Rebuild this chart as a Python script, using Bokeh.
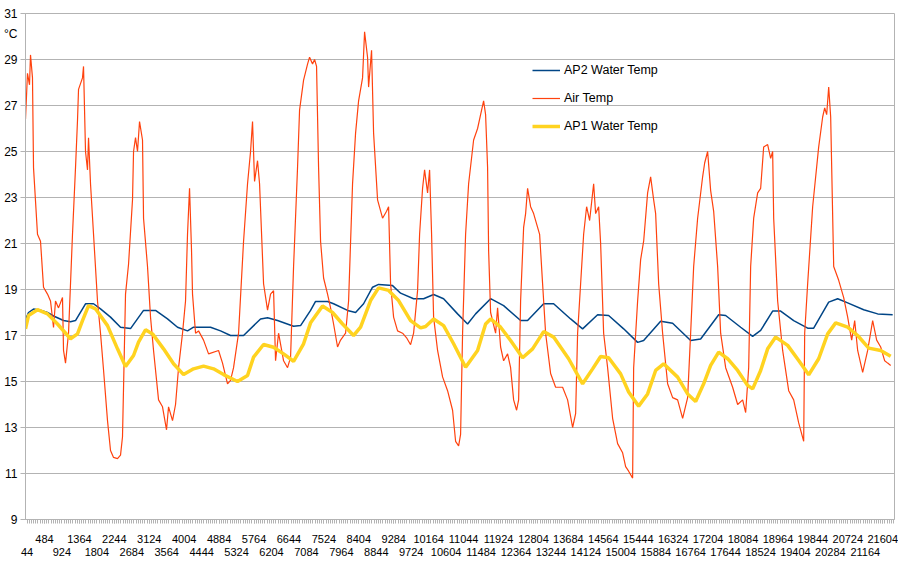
from bokeh.plotting import figure
from bokeh.models import Range1d, FixedTicker, LinearAxis, Legend, LegendItem
from bokeh.embed import file_html
from bokeh.resources import INLINE

# ---------------- data ----------------
tick_labels = ["44", "484", "924", "1364", "1804", "2244", "2684", "3124", "3564", "4004",
               "4444", "4884", "5324", "5764", "6204", "6644", "7084", "7524", "7964", "8404",
               "8844", "9284", "9724", "10164", "10604", "11044", "11484", "11924", "12364", "12804",
               "13244", "13684", "14124", "14564", "15004", "15444", "15884", "16324", "16764", "17204",
               "17644", "18084", "18524", "18964", "19404", "19844", "20284", "20724", "21164", "21604"]
y_ticks = [9, 11, 13, 15, 17, 19, 21, 23, 25, 27, 29, 31]
unit_text = "°C"
unit_pos = 30.1

ap2_x = [6, 82, 208, 384, 560, 712, 964, 1140, 1266, 1518,
         1720, 1896, 2148, 2400, 2652, 2980, 3282, 3584, 3836, 4088,
         4240, 4668, 4920, 5172, 5500, 5928, 6104, 6356, 6760, 6936,
         7188, 7314, 7616, 7768, 8120, 8322, 8524, 8750, 8902, 9254,
         9456, 9784, 10036, 10288, 10540, 10892, 11144, 11346, 11724, 12052,
         12480, 12656, 13060, 13312, 13740, 14042, 14420, 14698, 15076, 15428,
         15580, 16008, 16310, 16764, 17016, 17470, 17646, 18024, 18326, 18528,
         18830, 19032, 19360, 19712, 19864, 20242, 20468, 20720, 21124, 21476,
         21854]
ap2_y = [17.7, 18.0, 18.15, 18.1, 18.0, 17.85, 17.65, 17.6, 17.65, 18.38,
         18.38, 18.16, 17.8, 17.36, 17.3, 18.09, 18.09, 17.72, 17.36, 17.2,
         17.36, 17.36, 17.2, 17.0, 17.0, 17.72, 17.77, 17.65, 17.4, 17.43,
         18.09, 18.48, 18.48, 18.38, 18.09, 18.0, 18.38, 19.1, 19.22, 19.17,
         18.84, 18.6, 18.6, 18.78, 18.6, 17.94, 17.5, 17.94, 18.6, 18.3,
         17.65, 17.65, 18.38, 18.38, 17.72, 17.29, 17.9, 17.87, 17.29, 16.7,
         16.78, 17.62, 17.53, 16.78, 16.85, 17.9, 17.87, 17.36, 16.96, 17.22,
         18.06, 18.06, 17.65, 17.32, 17.32, 18.45, 18.6, 18.42, 18.12, 17.94,
         17.9]

air_x = [6, 56, 107, 132, 182, 208, 308, 384, 460, 560,
         636, 712, 762, 838, 938, 964, 1014, 1090, 1190, 1266,
         1316, 1342, 1442, 1468, 1518, 1568, 1594, 1644, 1720, 1820,
         1896, 1972, 2072, 2148, 2224, 2324, 2400, 2450, 2526, 2602,
         2702, 2728, 2778, 2828, 2879, 2954, 2980, 3080, 3156, 3232,
         3358, 3458, 3559, 3610, 3710, 3786, 3862, 3962, 4038, 4088,
         4139, 4189, 4214, 4290, 4366, 4492, 4618, 4870, 4970, 5096,
         5172, 5248, 5374, 5500, 5600, 5676, 5726, 5777, 5852, 5903,
         6004, 6104, 6180, 6256, 6306, 6382, 6508, 6608, 6684, 6760,
         6860, 6911, 7012, 7112, 7163, 7238, 7289, 7339, 7390, 7440,
         7516, 7616, 7692, 7768, 7868, 7944, 8070, 8146, 8246, 8322,
         8398, 8498, 8549, 8624, 8650, 8725, 8776, 8876, 9002, 9103,
         9154, 9204, 9280, 9380, 9506, 9607, 9708, 9784, 9884, 9935,
         10010, 10061, 10136, 10187, 10237, 10288, 10388, 10514, 10640, 10766,
         10842, 10918, 10968, 11018, 11094, 11170, 11296, 11396, 11472, 11548,
         11598, 11648, 11674, 11724, 11850, 11900, 11976, 12052, 12152, 12228,
         12304, 12379, 12430, 12480, 12556, 12606, 12656, 12732, 12808, 12908,
         12959, 13034, 13110, 13236, 13362, 13538, 13664, 13790, 13866, 13916,
         13992, 14068, 14143, 14219, 14320, 14370, 14446, 14496, 14572, 14672,
         14798, 14924, 15050, 15126, 15202, 15302, 15328, 15428, 15504, 15580,
         15680, 15756, 15832, 15882, 15958, 16058, 16184, 16310, 16436, 16562,
         16688, 16764, 16840, 16940, 17066, 17117, 17192, 17268, 17344, 17444,
         17520, 17646, 17822, 17948, 18074, 18150, 18226, 18276, 18352, 18452,
         18528, 18604, 18704, 18780, 18830, 18856, 18956, 19082, 19234, 19360,
         19486, 19612, 19637, 19712, 19838, 19914, 19990, 20090, 20141, 20191,
         20242, 20292, 20368, 20494, 20620, 20720, 20821, 20897, 20972, 21098,
         21224, 21350, 21451, 21552, 21653, 21728, 21804]
air_y = [26.4, 28.4, 27.9, 29.2, 28.2, 24.3, 21.4, 21.1, 19.1, 18.8,
         18.5, 17.35, 18.5, 18.2, 18.65, 16.35, 15.8, 17.1, 21.4, 24.3,
         26.35, 27.7, 28.2, 28.7, 25.0, 24.2, 25.6, 23.6, 21.4, 18.5,
         17.1, 15.5, 13.3, 12.0, 11.7, 11.65, 11.8, 12.6, 18.8, 20.1,
         22.9, 25.0, 25.6, 25.0, 26.3, 25.5, 22.1, 20.0, 17.8, 16.35,
         14.2, 13.9, 12.9, 13.9, 13.3, 14.0, 15.6, 17.1, 18.5, 21.4,
         23.4, 20.7, 18.8, 17.1, 17.2, 16.8, 16.2, 16.35, 15.8, 14.9,
         15.05, 15.6, 17.1, 21.1, 23.6, 25.0, 26.3, 23.7, 24.6, 23.6,
         19.25, 18.1, 18.8, 18.95, 15.9, 17.1, 15.9, 15.6, 16.05, 20.0,
         24.3, 26.8, 28.1, 28.8, 29.1, 28.8, 29.0, 28.7, 24.3, 21.1,
         19.5, 18.8, 18.2, 17.5, 16.5, 16.8, 17.1, 18.5, 23.6, 25.8,
         27.2, 28.2, 30.2, 29.1, 27.8, 29.4, 25.8, 22.9, 22.1, 22.4,
         22.6, 19.25, 17.8, 17.2, 17.1, 16.9, 16.6, 17.1, 18.95, 21.4,
         23.4, 24.2, 23.2, 24.2, 21.4, 17.8, 16.35, 15.2, 14.6, 13.75,
         12.4, 12.2, 12.7, 17.1, 21.4, 23.6, 25.5, 26.0, 26.6, 27.2,
         26.6, 24.3, 20.7, 18.0, 17.1, 18.2, 16.5, 15.9, 16.2, 15.6,
         14.2, 13.75, 14.2, 18.5, 21.7, 22.3, 23.4, 22.6, 22.3, 21.7,
         21.4, 19.25, 17.1, 15.35, 14.75, 14.75, 14.2, 13.0, 13.6, 17.1,
         19.25, 21.4, 22.6, 22.0, 23.6, 22.3, 22.6, 21.0, 17.1, 15.6,
         13.4, 12.3, 11.9, 11.3, 11.1, 10.8, 15.6, 18.5, 20.3, 21.1,
         23.2, 23.9, 22.9, 22.3, 19.25, 17.1, 14.9, 14.3, 14.2, 13.4,
         14.3, 17.1, 20.0, 22.1, 23.9, 24.5, 25.0, 23.3, 22.4, 20.0,
         17.1, 15.6, 14.75, 14.0, 14.2, 13.65, 15.6, 20.0, 22.1, 23.2,
         23.4, 25.2, 25.3, 24.7, 25.0, 22.1, 18.5, 16.35, 14.6, 14.2,
         13.2, 12.4, 17.1, 19.25, 22.6, 23.9, 25.2, 26.5, 26.9, 26.6,
         27.8, 26.5, 20.0, 19.4, 18.65, 17.8, 16.8, 17.65, 16.35, 15.4,
         16.35, 17.65, 16.8, 16.5, 15.9, 15.8, 15.7]

ap1_x = [6, 82, 308, 560, 812, 1140, 1316, 1442, 1594, 1770,
         2072, 2324, 2526, 2728, 2854, 3030, 3206, 3484, 3736, 3988,
         4240, 4492, 4744, 4996, 5348, 5600, 5752, 6004, 6256, 6508,
         6760, 7012, 7188, 7490, 7742, 7994, 8272, 8448, 8700, 8902,
         9154, 9406, 9708, 9960, 10086, 10288, 10540, 10792, 11094, 11396,
         11598, 11724, 11976, 12228, 12530, 12782, 13060, 13312, 13690, 14042,
         14294, 14496, 14698, 15000, 15202, 15454, 15680, 15882, 16084, 16436,
         16688, 16890, 17092, 17268, 17470, 17696, 17948, 18200, 18326, 18528,
         18704, 18906, 19208, 19486, 19738, 19990, 20216, 20418, 20720, 20972,
         21250, 21552, 21804]
ap1_y = [17.29, 17.87, 18.12, 17.94, 17.5, 16.86, 17.07, 17.65, 18.3, 18.16,
         17.43, 16.42, 15.65, 16.13, 16.71, 17.25, 17.07, 16.42, 15.77, 15.3,
         15.55, 15.67, 15.55, 15.3, 15.0, 15.26, 16.06, 16.61, 16.49, 16.2,
         15.88, 16.64, 17.55, 18.28, 18.0, 17.5, 17.0, 17.36, 18.52, 19.07,
         18.96, 18.52, 17.65, 17.33, 17.39, 17.72, 17.43, 16.64, 15.62, 16.35,
         17.5, 17.72, 17.36, 16.78, 16.03, 16.42, 17.17, 16.93, 15.99, 14.9,
         15.55, 16.09, 16.03, 15.33, 14.54, 13.93, 14.46, 15.48, 15.77, 15.19,
         14.46, 14.13, 14.9, 15.7, 16.28, 15.99, 15.48, 14.83, 14.68, 15.48,
         16.42, 16.93, 16.57, 15.91, 15.29, 15.99, 17.07, 17.55, 17.36, 17.0,
         16.45, 16.35, 16.1]

series_names = ["AP2 Water Temp", "Air Temp", "AP1 Water Temp"]
series_colors = ["#004586", "#ff420e", "#ffd320"]

# ---------------- figure ----------------
FONT = "Liberation Sans"
GRID = "#b3b3b3"

tick_values = [int(s) for s in tick_labels]
upper_ticks = tick_values[1::2]
lower_ticks = tick_values[0::2]
minor_ticks = list(range(44, 21900, 55))

p = figure(width=898, height=565, output_backend="svg", toolbar_location=None,
           x_range=Range1d(6, 21900), y_range=Range1d(9, 31),
           min_border_left=25, min_border_right=4, min_border_top=13,
           min_border_bottom=46)
p.background_fill_color = "white"
p.border_fill_color = "white"
p.outline_line_color = GRID
p.xgrid.visible = False
p.ygrid.grid_line_color = GRID
p.ygrid.grid_line_width = 1

# inner left axis: only the short tick marks (grid lines extend past the axis)
yax = p.yaxis[0]
yax.ticker = FixedTicker(ticks=y_ticks)
yax.axis_line_color = GRID
yax.major_tick_line_color = GRID
yax.major_tick_out = 5
yax.major_tick_in = 0
yax.minor_tick_line_color = None
yax.major_label_standoff = 0
yax.major_label_overrides = {t: "" for t in y_ticks}
yax.major_label_text_font_size = "0px"

# outer left axis: the numbers and the unit text
yax2 = LinearAxis(ticker=FixedTicker(ticks=y_ticks + [unit_pos], minor_ticks=[]))
yax2.major_label_overrides = {unit_pos: unit_text}
yax2.axis_line_color = None
yax2.major_tick_line_color = None
yax2.minor_tick_line_color = None
yax2.major_tick_out = 0
yax2.major_tick_in = 0
yax2.major_label_standoff = 3
yax2.major_label_text_font = FONT
yax2.major_label_text_font_size = "12px"
yax2.major_label_text_color = "black"
p.add_layout(yax2, "left")

xax = p.xaxis[0]
xax.ticker = FixedTicker(ticks=upper_ticks, minor_ticks=minor_ticks)
xax.major_label_overrides = {t: l for t, l in zip(tick_values, tick_labels)}
xax.axis_line_color = GRID
xax.major_tick_line_color = GRID
xax.minor_tick_line_color = GRID
xax.major_tick_out = 4
xax.major_tick_in = 0
xax.minor_tick_out = 4
xax.minor_tick_in = 0
xax.major_label_standoff = 11
xax.major_label_text_font = FONT
xax.major_label_text_font_size = "11px"
xax.major_label_text_color = "black"

xax2 = LinearAxis(ticker=FixedTicker(ticks=lower_ticks, minor_ticks=[]))
xax2.major_label_overrides = {t: l for t, l in zip(tick_values, tick_labels)}
xax2.axis_line_color = None
xax2.major_tick_line_color = None
xax2.minor_tick_line_color = None
xax2.major_tick_out = 0
xax2.major_tick_in = 0
xax2.major_label_standoff = 2
xax2.major_label_text_font = FONT
xax2.major_label_text_font_size = "11px"
xax2.major_label_text_color = "black"
p.add_layout(xax2, "below")

r_ap2 = p.line(ap2_x, ap2_y, line_color=series_colors[0], line_width=1.5)
r_air = p.line(air_x, air_y, line_color=series_colors[1], line_width=1.2)
r_ap1 = p.line(ap1_x, ap1_y, line_color=series_colors[2], line_width=3.5)

legend = Legend(items=[LegendItem(label=series_names[0], renderers=[r_ap2]),
                       LegendItem(label=series_names[1], renderers=[r_air]),
                       LegendItem(label=series_names[2], renderers=[r_ap1])],
                location=(507, 383))
legend.label_text_font = FONT
legend.label_text_font_size = "12.5px"
legend.label_text_color = "black"
legend.glyph_width = 28
legend.glyph_height = 20
legend.label_height = 20
legend.label_standoff = 4
legend.spacing = 8
legend.padding = 0
legend.margin = 0
legend.border_line_color = None
legend.background_fill_alpha = 0
p.add_layout(legend)

open("out.html", "w").write(file_html(p, INLINE))
